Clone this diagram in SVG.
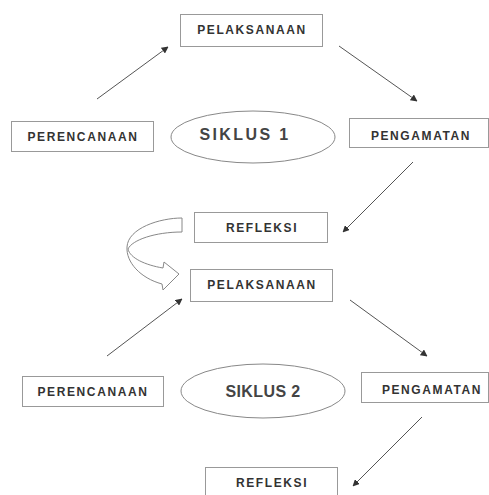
<svg xmlns="http://www.w3.org/2000/svg" width="489" height="495" viewBox="0 0 489 495">
<defs>
<style>
.box{fill:#fff;stroke:#999;stroke-width:1}
.ell{fill:#fff;stroke:#888;stroke-width:1}
.t{font-family:"Liberation Sans",Arial,sans-serif;font-size:12px;font-weight:bold;fill:#333;text-anchor:middle;letter-spacing:1.6px}
.big{font-family:"Liberation Sans",Arial,sans-serif;font-size:16px;font-weight:bold;fill:#444;text-anchor:middle}
.ln{stroke:#555;stroke-width:1;fill:none;marker-end:url(#ah)}
</style>
<marker id="ah" viewBox="0 0 10 10" refX="9" refY="5" markerWidth="7" markerHeight="7" markerUnits="userSpaceOnUse" orient="auto">
<path d="M0,0 L10,5 L0,10 Z" fill="#333"/>
</marker>
</defs>
<rect width="489" height="495" fill="#fff"/>
<g id="connectors">
<line class="ln" x1="97" y1="99" x2="168" y2="47"/>
<line class="ln" x1="339" y1="46" x2="417" y2="101"/>
<line class="ln" x1="413" y1="162" x2="343" y2="232"/>
<line class="ln" x1="107" y1="356" x2="182" y2="299"/>
<line class="ln" x1="350" y1="300" x2="427" y2="356"/>
<line class="ln" x1="422" y1="417" x2="353" y2="486"/>
<path id="loop-arrow" d="M182,218 C160,218 128,228 127,247 C126,262 140,278 162,284 L163,290 L179,274 L164,262 L163,268 C145,265 130,258 128,249 C132,240 155,232 182,232 Z" fill="#fff" stroke="#888" stroke-width="1"/>
</g>
<g id="pelaksanaan1"><rect class="box" x="180.5" y="14.5" width="142" height="32"/><text class="t" x="252" y="34">PELAKSANAAN</text></g>
<g id="perencanaan1"><rect class="box" x="11.5" y="121.5" width="142" height="30"/><text class="t" x="83" y="141">PERENCANAAN</text></g>
<g id="siklus1"><ellipse class="ell" cx="253" cy="137" rx="82" ry="26"/><text class="big" x="245" y="140" letter-spacing="2.4">SIKLUS 1</text></g>
<g id="pengamatan1"><rect class="box" x="349.5" y="118.5" width="139" height="29"/><text class="t" x="421" y="140">PENGAMATAN</text></g>
<g id="refleksi1"><rect class="box" x="194.5" y="212.5" width="133" height="30"/><text class="t" x="262" y="232">REFLEKSI</text></g>
<g id="pelaksanaan2"><rect class="box" x="190.5" y="269.5" width="142" height="32"/><text class="t" x="262" y="289">PELAKSANAAN</text></g>
<g id="perencanaan2"><rect class="box" x="22.5" y="376.5" width="141" height="30"/><text class="t" x="93" y="396">PERENCANAAN</text></g>
<g id="siklus2"><ellipse class="ell" cx="263" cy="391" rx="82" ry="27"/><text class="big" x="263" y="397" letter-spacing="0.4">SIKLUS 2</text></g>
<g id="pengamatan2"><rect class="box" x="361.5" y="372.5" width="127" height="30"/><text class="t" x="432" y="394">PENGAMATAN</text></g>
<g id="refleksi2"><rect class="box" x="205.5" y="467.5" width="132" height="40"/><text class="t" x="272" y="487">REFLEKSI</text></g>
</svg>
